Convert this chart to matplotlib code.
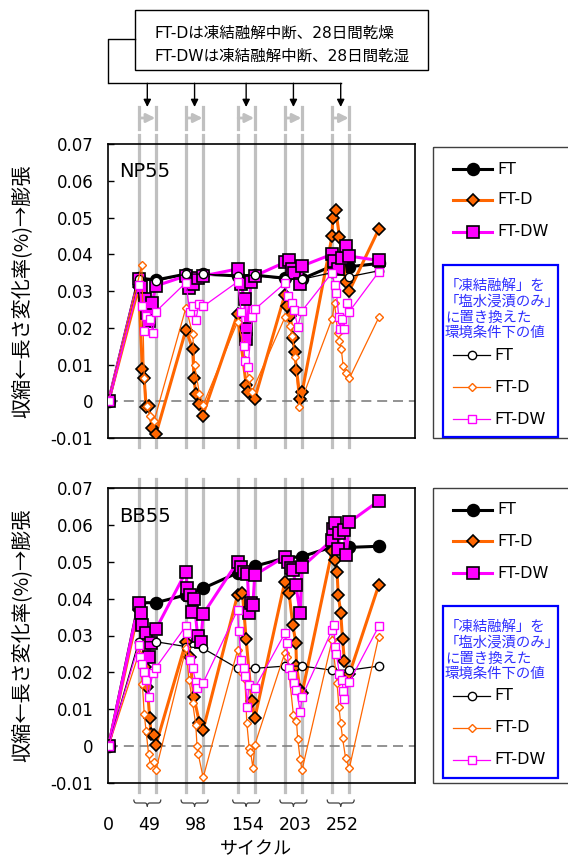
import numpy as np
import matplotlib
matplotlib.use("Agg")
import matplotlib.pyplot as plt
from matplotlib.patches import Rectangle, PathPatch
from matplotlib.path import Path
from matplotlib.ticker import FuncFormatter
from matplotlib.transforms import blended_transform_factory

plt.rcParams['font.family'] = ['DejaVu Sans', 'Noto Sans CJK JP']

# freeze-thaw cycles after which FT-D / FT-DW were paused for 28 days
cycle_marks = [49, 98, 154, 203, 252]
last_cycle = 300
pause_len = 28

# one cycle per day -> horizontal axis is elapsed days
pause_start = [c + i * pause_len for i, c in enumerate(cycle_marks)]
last_day = last_cycle + pause_len * len(cycle_marks)

# ---------------- NP55 ----------------
# FT: day 0, start/end of every pause, last cycle
np_ft = [0, 0.0335, 0.0330, 0.0346, 0.0346, 0.0341, 0.0343, 0.0335, 0.0333, 0.0368, 0.0366, 0.0375]
np_ft_s = [0, 0.0332, 0.0327, 0.0346, 0.0346, 0.0341, 0.0343, 0.0332, 0.0332, 0.0350, 0.0339, 0.0355]

# FT-D / FT-DW: readings inside each pause (day offset from pause start)
np_ftd_off = [[0, 6, 9, 12, 16, 22, 28], [0, 11, 13, 16, 21, 27], [0, 14, 17, 28],
              [0, 4, 9, 13, 16, 19, 25, 28], [0, 1, 6, 12, 22, 28]]
np_ftd_val = [[0.031, 0.0087, 0.0062, -0.0017, -0.0013, -0.0074, -0.009],
              [0.0195, 0.0141, 0.0064, 0.0019, -0.0008, -0.004],
              [0.0237, 0.0044, 0.0025, 0.0007],
              [0.029, 0.026, 0.0232, 0.0172, 0.0133, 0.0085, 0.0007, 0.0024],
              [0.045, 0.050, 0.052, 0.0447, 0.0325, 0.030]]
np_ftd_end = 0.0468

np_ftdw_off = [[0, 4, 10, 14, 17, 22, 28], [0, 5, 12, 20, 28], [0, 5, 12, 13, 14, 22, 28],
               [0, 6, 11, 15, 24, 28], [0, 3, 10, 16, 22, 28]]
np_ftdw_val = [[0.0332, 0.031, 0.0278, 0.0241, 0.0219, 0.0268, 0.0314],
               [0.0341, 0.0307, 0.0318, 0.0336, 0.0341],
               [0.036, 0.0318, 0.0278, 0.0196, 0.0169, 0.0325, 0.0341],
               [0.0378, 0.0385, 0.036, 0.035, 0.0318, 0.0368],
               [0.040, 0.0382, 0.036, 0.039, 0.0423, 0.0395]]
np_ftdw_end = 0.0383

# salt-water immersion only (open markers)
np_ftd_s_off = [[5, 9, 14, 19, 25], [0, 11, 14, 22, 28], [0, 10, 12, 18, 23],
                [0, 9, 12, 17, 23], [0, 4, 9, 12, 15, 18, 23, 28]]
np_ftd_s_val = [[0.037, 0.0062, -0.0013, -0.004, -0.0054],
                [0.0255, 0.0182, 0.0098, 0.002, -0.001],
                [0.0216, 0.0152, 0.0112, 0.0064, 0.0024],
                [0.0228, 0.0205, 0.0178, 0.0121, -0.0016],
                [0.0225, 0.0268, 0.0187, 0.0164, 0.0141, 0.0096, 0.0078, 0.0062]]
np_ftd_s_end = 0.0228

np_ftdw_s_off = [[0, 5, 9, 12, 19, 23, 28], [0, 6, 11, 16, 21, 28], [0, 6, 10, 12, 17, 24, 28],
                 [0, 5, 12, 15, 21, 28], [0, 4, 7, 11, 13, 16, 19, 24, 28]]
np_ftdw_s_val = [[0.0316, 0.026, 0.0191, 0.0232, 0.0223, 0.0187, 0.0244],
                 [0.0323, 0.0244, 0.026, 0.0221, 0.0264, 0.0258],
                 [0.0325, 0.0244, 0.0151, 0.011, 0.0092, 0.0228, 0.025],
                 [0.0321, 0.0287, 0.0266, 0.0248, 0.0203, 0.0246],
                 [0.035, 0.0316, 0.0294, 0.0228, 0.0196, 0.0223, 0.0196, 0.0268, 0.0244]]
np_ftdw_s_end = 0.0352

# ---------------- BB55 ----------------
bb_ft = [0, 0.0389, 0.0389, 0.0410, 0.0428, 0.0470, 0.0488, 0.0510, 0.0514, 0.0540, 0.0539, 0.0542]
bb_ft_s = [0, 0.0283, 0.0283, 0.0270, 0.0265, 0.0211, 0.0211, 0.0217, 0.0217, 0.0206, 0.0206, 0.0217]

bb_ftd_off = [[0, 11, 14, 18, 20, 25, 28], [0, 6, 13, 22, 28], [0, 8, 14, 23, 28],
              [0, 7, 13, 18, 19, 25, 28], [0, 4, 8, 10, 14, 17, 20, 28]]
bb_ftd_val = [[0.037, 0.0215, 0.0161, 0.0075, 0.0034, 0.003, 0.0003],
              [0.0283, 0.0242, 0.0132, 0.0063, 0.0045],
              [0.041, 0.0414, 0.029, 0.0123, 0.0075],
              [0.0446, 0.0414, 0.0328, 0.028, 0.0217, 0.0152, 0.0143],
              [0.053, 0.0505, 0.0473, 0.041, 0.0362, 0.029, 0.0231, 0.0195]]
bb_ftd_end = 0.0437

bb_ftdw_off = [[0, 4, 6, 12, 16, 20, 28], [0, 2, 6, 9, 13, 19, 24, 28], [0, 5, 10, 16, 19, 22, 25, 28],
               [0, 5, 10, 13, 18, 25, 28], [0, 1, 5, 10, 12, 19, 23, 28]]
bb_ftdw_val = [[0.0387, 0.036, 0.0328, 0.0306, 0.0242, 0.028, 0.0317],
               [0.0473, 0.0428, 0.041, 0.0364, 0.0398, 0.0298, 0.0283, 0.0358],
               [0.05, 0.0486, 0.0473, 0.0468, 0.036, 0.0387, 0.0383, 0.0464],
               [0.0514, 0.05, 0.0482, 0.0477, 0.0437, 0.036, 0.0486],
               [0.0559, 0.059, 0.0604, 0.0534, 0.0577, 0.0586, 0.0518, 0.0607]]
bb_ftdw_end = 0.0665

bb_ftd_s_off = [[0, 6, 9, 12, 16, 19, 25, 28], [0, 5, 11, 16, 18, 20, 28], [0, 8, 12, 15, 19, 21, 25, 28],
                [0, 4, 14, 19, 21, 25, 28], [0, 8, 11, 14, 17, 22, 28]]
bb_ftd_s_val = [[0.025, 0.0168, 0.0087, 0.0042, -0.002, -0.0052, -0.0043, -0.0065],
                [0.0265, 0.0179, 0.0116, 0.0057, 0.0, -0.0022, -0.0085],
                [0.026, 0.0197, 0.0183, 0.0064, -0.0006, -0.0015, -0.0058, 0.0003],
                [0.0253, 0.0242, 0.0084, 0.0068, 0.0018, -0.0036, -0.0065],
                [0.0288, 0.0172, 0.0107, 0.0062, 0.0022, -0.0033, -0.006]]
bb_ftd_s_end = 0.0297

bb_ftdw_s_off = [[0, 2, 6, 9, 12, 16, 23, 28], [0, 1, 6, 11, 16, 18, 28], [0, 2, 6, 10, 12, 16, 18, 28],
                 [0, 3, 6, 11, 15, 19, 25, 28], [0, 3, 5, 7, 12, 16, 18, 20, 28]]
bb_ftdw_s_val = [[0.0274, 0.0242, 0.0222, 0.0202, 0.0179, 0.0134, 0.0199, 0.0213],
                 [0.0326, 0.0308, 0.0233, 0.0211, 0.0174, 0.0157, 0.0172],
                 [0.0369, 0.0313, 0.0233, 0.0211, 0.019, 0.0107, 0.0165, 0.0157],
                 [0.0306, 0.028, 0.0211, 0.0193, 0.0172, 0.0152, 0.0093, 0.0134],
                 [0.0315, 0.0328, 0.0268, 0.025, 0.0195, 0.018, 0.015, 0.0127, 0.0174]]
bb_ftdw_s_end = 0.0325

ORANGE = '#FF6600'
MAGENTA = '#FF00FF'
GRAY = '#C0C0C0'
BLUE_TXT = '#2F2FFF'

st_ft = dict(color='black', lw=2.2, marker='o', ms=8.5, mfc='black', mec='black', mew=1.2)
st_ftd = dict(color=ORANGE, lw=2.2, marker='D', ms=6, mfc=ORANGE, mec='black', mew=1.2)
st_ftdw = dict(color=MAGENTA, lw=2.2, marker='s', ms=9.2, mfc=MAGENTA, mec='black', mew=1.2)
st_ft_s = dict(color='black', lw=0.9, marker='o', ms=6, mfc='white', mec='black', mew=1)
st_ftd_s = dict(color=ORANGE, lw=0.9, marker='D', ms=3.8, mfc='white', mec=ORANGE, mew=1)
st_ftdw_s = dict(color=MAGENTA, lw=0.9, marker='s', ms=6.3, mfc='white', mec=MAGENTA, mew=1)

ft_x = [0] + [d for s in pause_start for d in (s, s + pause_len)] + [last_day]


def build(offs, vals, end):
    x, y = [0], [0.0]
    for s, o, v in zip(pause_start, offs, vals):
        x += [s + d for d in o]
        y += v
    return x + [last_day], y + [end]


W, H = 568, 859
fig = plt.figure(figsize=(W / 100, H / 100), dpi=100)
ax_top = fig.add_axes([108 / W, 1 - 438 / H, 307 / W, 294 / H])
ax_bot = fig.add_axes([108 / W, 1 - 783 / H, 307 / W, 295 / H])

ov = fig.add_axes([0, 0, 1, 1], zorder=10)
ov.set_xlim(0, W)
ov.set_ylim(H, 0)
ov.set_autoscale_on(False)
ov.axis('off')

panels = [
    (ax_top, 'NP55', np_ft, np_ft_s,
     (np_ftd_off, np_ftd_val, np_ftd_end), (np_ftdw_off, np_ftdw_val, np_ftdw_end),
     (np_ftd_s_off, np_ftd_s_val, np_ftd_s_end), (np_ftdw_s_off, np_ftdw_s_val, np_ftdw_s_end)),
    (ax_bot, 'BB55', bb_ft, bb_ft_s,
     (bb_ftd_off, bb_ftd_val, bb_ftd_end), (bb_ftdw_off, bb_ftdw_val, bb_ftdw_end),
     (bb_ftd_s_off, bb_ftd_s_val, bb_ftd_s_end), (bb_ftdw_s_off, bb_ftdw_s_val, bb_ftdw_s_end)),
]

ylab = '収縮←長さ変化率(%)→膨張'
for ax, name, ft, ft_s, ftd, ftdw, ftd_s, ftdw_s in panels:
    ax.set_xlim(-1, 499)
    ax.set_ylim(-0.01, 0.07)
    for s in pause_start:
        for d in (s, s + pause_len):
            ax.axvline(d, ymin=-0.03, ymax=1.03, clip_on=False, color=GRAY, lw=2.3, zorder=1)
    ax.axhline(0, color='#808080', lw=1.2, ls=(0, (6, 3.5)), zorder=1.5)

    ax.plot(ft_x, ft, zorder=3, **st_ft)
    ax.plot(*build(*ftd), zorder=3, **st_ftd)
    ax.plot(*build(*ftdw), zorder=3, **st_ftdw)
    ax.plot(ft_x, ft_s, zorder=4, **st_ft_s)
    ax.plot(*build(*ftd_s), zorder=4, **st_ftd_s)
    ax.plot(*build(*ftdw_s), zorder=4, **st_ftdw_s)

    ax.set_xticks([])
    ax.set_yticks(np.arange(-0.01, 0.0701, 0.01))
    ax.yaxis.set_major_formatter(FuncFormatter(lambda v, p: '0' if abs(v) < 1e-9 else f'{v:.2f}'))
    ax.tick_params(axis='y', direction='in', length=4, width=1, labelsize=12, pad=10.5)
    for sp in ax.spines.values():
        sp.set_linewidth(1.2)
    ax.text(0.036, 0.905, name, transform=ax.transAxes, fontsize=14, va='center', ha='left')

# vertical axis titles
for yc in ((144 + 438) / 2, (488 + 783) / 2):
    ov.text(22, yc, ylab, rotation=90, ha='center', va='center', fontsize=14.5,
            family=['Noto Sans CJK JP', 'DejaVu Sans'])

# cycle labels under the braces
trans = blended_transform_factory(ax_bot.transData, ov.transData)
ov.text(0, 825, '0', transform=trans, ha='center', va='center', fontsize=12.5)
for s, c in zip(pause_start, cycle_marks):
    mid = s + pause_len / 2
    ov.text(mid + 3, 825, str(c), transform=trans, ha='center', va='center', fontsize=12.5)
    hw, q = 22, 4
    y0, y1, y2 = 799.5, 803, 806.5
    verts = [(mid - hw, y0), (mid - hw, y1), (mid - hw + q, y1), (mid - q, y1), (mid, y1), (mid, y2),
             (mid, y1), (mid + q, y1), (mid + hw - q, y1), (mid + hw, y1), (mid + hw, y0)]
    codes = [Path.MOVETO, Path.CURVE3, Path.CURVE3, Path.LINETO, Path.CURVE3, Path.CURVE3,
             Path.CURVE3, Path.CURVE3, Path.LINETO, Path.CURVE3, Path.CURVE3]
    ov.add_patch(PathPatch(Path(verts, codes), transform=trans, fill=False, lw=0.9,
                           ec='#404040', clip_on=False))
ov.text(256, 849, 'サイクル', ha='center', va='center', fontsize=13)

# note box with the pause markers above the top panel
trans_t = blended_transform_factory(ax_top.transData, ov.transData)
ov.add_patch(Rectangle((135, 9.5), 293, 60.5, fill=False, ec='black', lw=1))
ov.text(155, 33.5, 'FT-Dは凍結融解中断、28日間乾燥', fontsize=11.2, va='center', ha='left')
ov.text(155, 56.5, 'FT-DWは凍結融解中断、28日間乾湿', fontsize=11.2, va='center', ha='left')
ov.plot([135, 108.3, 108.3], [39.3, 39.3, 83.3], color='black', lw=1)
mids = [s + pause_len / 2 for s in pause_start]
ov.plot([0, mids[-1]], [83.3, 83.3], color='black', lw=1, transform=trans_t)
for s, m in zip(pause_start, mids):
    ov.annotate('', xy=(m, 107), xytext=(m, 83.3), xycoords=trans_t, textcoords=trans_t,
                arrowprops=dict(arrowstyle='-|>', color='black', lw=1, mutation_scale=11,
                                shrinkA=0, shrinkB=0))
    for d in (s, s + pause_len):
        ov.plot([d, d], [107, 128.5], color=GRAY, lw=2.3, transform=trans_t)
    ov.annotate('', xy=(s + pause_len - 1, 118), xytext=(s + 1, 118), xycoords=trans_t,
                textcoords=trans_t,
                arrowprops=dict(arrowstyle='-|>', color=GRAY, lw=2, mutation_scale=13,
                                shrinkA=0, shrinkB=0))

# legends drawn beside each panel
legend_rows = [('FT', st_ft), ('FT-D', st_ftd), ('FT-DW', st_ftdw)]
legend_rows_s = [('FT', st_ft_s), ('FT-D', st_ftd_s), ('FT-DW', st_ftdw_s)]
note = ['「凍結融解」を', '「塩水浸漬のみ」', 'に置き換えた', '環境条件下の値']
for top, bottom in ((147, 438), (488, 783)):
    ov.add_patch(Rectangle((432.5, top), 150, bottom - top, fill=False, ec='#404040', lw=1,
                           clip_on=False))
    for (lab, st), dy in zip(legend_rows, (22, 53, 85)):
        y = top + dy
        ov.plot([453, 492], [y, y], color=st['color'], lw=st['lw'])
        ov.plot([472.5], [y], ls='none', marker=st['marker'], ms=st['ms'], mfc=st['mfc'],
                mec=st['mec'], mew=st['mew'])
        ov.text(497, y, lab, fontsize=11.5, va='center', ha='left')
    ov.add_patch(Rectangle((443, top + 118), 115, 172, fill=False, ec='#0000FF', lw=1.6))
    for line, dy in zip(note, (138.5, 155, 170.5, 186)):
        ov.text(445, top + dy, line, fontsize=10.4, va='center', ha='left', color=BLUE_TXT)
    for (lab, st), dy in zip(legend_rows_s, (208, 240, 272)):
        y = top + dy
        ov.plot([453, 490], [y, y], color=st['color'], lw=st['lw'])
        ov.plot([471.5], [y], ls='none', marker=st['marker'], ms=st['ms'], mfc=st['mfc'],
                mec=st['mec'], mew=st['mew'])
        ov.text(494, y, lab, fontsize=11.5, va='center', ha='left')

fig.savefig('out.png', dpi=100)
